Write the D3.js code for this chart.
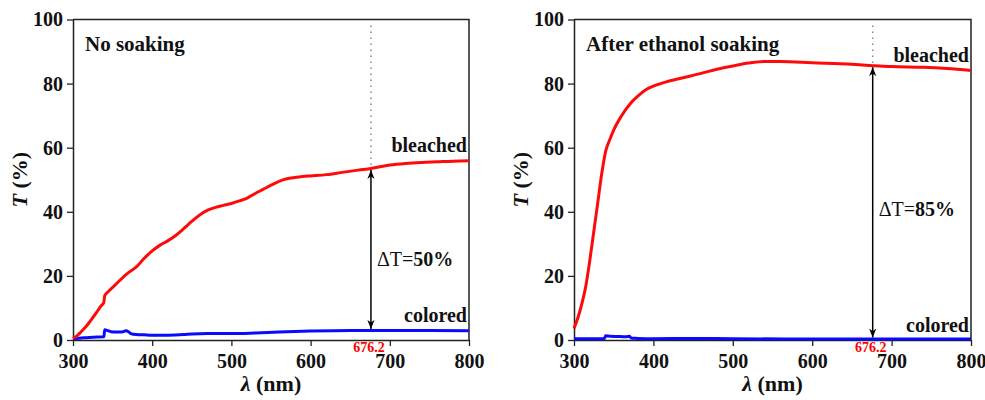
<!DOCTYPE html>
<html><head><meta charset="utf-8">
<script src="https://cdn.jsdelivr.net/npm/d3@7"></script>
<style>
html,body{margin:0;padding:0;background:#fff;}
</style></head>
<body>
<svg id="chart" width="985" height="400"></svg>
<script>
// ---------- data ----------
const xTicks = [300, 400, 500, 600, 700, 800];
const yTicks = [0, 20, 40, 60, 80, 100];
const panelTitles = ["No soaking", "After ethanol soaking"];
const deltaValues = ["50%", "85%"];
const markWavelength = 676.2;

const noSoakBleachedX = [300,305,310,315,320,325,330,335,339,340,345,350,360,370,380,390,400,410,420,430,440,450,460,470,480,490,500,510,520,530,540,550,560,570,580,590,600,620,640,660,676.2,700,720,740,760,780,800];
const noSoakBleachedY = [0.5,1.3,2.5,3.8,5.3,7,8.7,10.5,11.8,13.8,15.2,16.4,18.8,21,22.8,25.5,27.8,29.6,31,32.7,34.8,37,39,40.5,41.4,42,42.6,43.4,44.3,45.7,47,48.3,49.5,50.3,50.7,51,51.2,51.6,52.3,53,53.5,54.6,55.1,55.4,55.6,55.8,55.9];

const noSoakColoredX = [300,310,320,330,338,339,340,343,348,355,362,367,370,373,380,390,400,420,440,450,470,500,530,560,600,650,676.2,700,750,800];
const noSoakColoredY = [0.4,0.6,0.8,0.9,1.0,1.0,3.2,3.0,2.6,2.5,2.5,2.9,2.6,2.0,1.7,1.6,1.5,1.5,1.7,1.9,2.0,2.0,2.2,2.5,2.8,3.0,3.0,3.0,3.0,2.9];

const ethanolBleachedX = [300,305,310,315,320,325,330,335,340,345,350,360,370,380,390,400,420,440,460,480,500,520,540,560,600,650,676.2,700,740,770,800];
const ethanolBleachedY = [3.6,7,11.4,17,25,34,43,52,59,62.5,65.5,70,73.5,76,78,79.2,80.8,82,83.2,84.5,85.5,86.4,86.9,86.9,86.5,86,85.6,85.3,85.1,84.7,84.1];

const ethanolColoredX = [300,320,338,340,345,355,365,370,372,380,400,450,500,600,700,800];
const ethanolColoredY = [0.4,0.4,0.4,1.3,1.2,1.1,1.0,1.2,0.6,0.5,0.4,0.5,0.4,0.3,0.3,0.3];

// ---------- drawing ----------
const FONT = "Liberation Serif";
const svg = d3.select("#chart").attr("font-family", FONT);
const defs = svg.append("defs");
defs.append("marker").attr("id","arr").attr("viewBox","0 0 10 10")
  .attr("refX",10).attr("refY",5).attr("markerWidth",9).attr("markerHeight",9)
  .attr("markerUnits","userSpaceOnUse").attr("orient","auto-start-reverse")
  .append("path").attr("d","M0,1 L10,5 L0,9 L3,5 Z").attr("fill","#000");

const panels = [
  {left:73, right:469, title:panelTitles[0], bx:noSoakBleachedX, by:noSoakBleachedY, cx:noSoakColoredX, cy:noSoakColoredY,
   delta:deltaValues[0], bleachedLabelY:152, coloredLabelY:322, deltaY:266},
  {left:574, right:971, title:panelTitles[1], bx:ethanolBleachedX, by:ethanolBleachedY, cx:ethanolColoredX, cy:ethanolColoredY,
   delta:deltaValues[1], bleachedLabelY:62, coloredLabelY:332, deltaY:216}
];
const plotTop = 19.5, plotBottom = 340;

panels.forEach(p => {
  const x = d3.scaleLinear().domain([300,800]).range([p.left,p.right]);
  const y = d3.scaleLinear().domain([0,100]).range([plotBottom,plotTop]);
  const g = svg.append("g");

  g.append("path").attr("d",`M${p.left},${plotTop}H${p.right}V${plotBottom}`)
    .attr("fill","none").attr("stroke","#222").attr("stroke-width",1.5);

  const xa = g.append("g").attr("transform",`translate(0,${plotBottom})`);
  xa.call(d3.axisBottom(x).tickValues(d3.range(350,800,100)).tickSize(4).tickFormat(""));
  xa.call(d3.axisBottom(x).tickValues(xTicks).tickSize(6).tickSizeOuter(0).tickPadding(8).tickFormat(d3.format("d")));
  xa.selectAll("path.domain").attr("stroke","#222").attr("stroke-width",1.5);
  xa.selectAll("line").attr("stroke","#222").attr("stroke-width",1.3);
  xa.selectAll("text").attr("font-size",20).attr("font-weight","bold").attr("fill","#111");

  const ya = g.append("g").attr("transform",`translate(${p.left},0)`);
  ya.call(d3.axisLeft(y).tickValues(d3.range(10,100,20)).tickSize(4).tickFormat(""));
  ya.call(d3.axisLeft(y).tickValues(yTicks).tickSize(6).tickSizeOuter(0).tickPadding(4).tickFormat(d3.format("d")));
  ya.selectAll("path.domain").attr("stroke","#222").attr("stroke-width",1.5);
  ya.selectAll("line").attr("stroke","#222").attr("stroke-width",1.3);
  ya.selectAll("text").attr("font-size",20).attr("font-weight","bold").attr("fill","#111");

  const yt = g.append("text").attr("transform",`translate(${p.left-46},${(plotTop+plotBottom)/2}) rotate(-90)`)
    .attr("text-anchor","middle").attr("font-size",22).attr("font-weight","bold").attr("fill","#111");
  yt.append("tspan").attr("font-style","italic").text("T");
  yt.append("tspan").text(" (%)");
  const xt = g.append("text").attr("x",(p.left+p.right)/2).attr("y",391)
    .attr("text-anchor","middle").attr("font-size",22).attr("font-weight","bold").attr("fill","#111");
  xt.append("tspan").attr("font-style","italic").text("λ");
  xt.append("tspan").text(" (nm)");

  g.append("text").attr("x",p.left+12).attr("y",51).attr("font-size",21).attr("font-weight","bold")
    .attr("fill","#111").text(p.title);

  const line = d3.line().x(d=>x(d[0])).y(d=>y(d[1])).curve(d3.curveMonotoneX);
  g.append("path").datum(d3.zip(p.cx,p.cy)).attr("d",line).attr("fill","none")
    .attr("stroke","#0a0aff").attr("stroke-width",3);
  g.append("path").datum(d3.zip(p.bx,p.by)).attr("d",line).attr("fill","none")
    .attr("stroke","#ff0a0a").attr("stroke-width",3);

  const bAt = d3.scaleLinear().domain(p.bx).range(p.by)(markWavelength);
  const cAt = d3.scaleLinear().domain(p.cx).range(p.cy)(markWavelength);
  const mx = x(markWavelength);
  g.append("line").attr("x1",mx).attr("x2",mx).attr("y1",plotTop+6).attr("y2",y(bAt))
    .attr("stroke","#888").attr("stroke-width",1.5).attr("stroke-dasharray","1.5,4.5");
  g.append("line").attr("x1",mx).attr("x2",mx).attr("y1",y(bAt)+1.5).attr("y2",y(cAt)-1.5)
    .attr("stroke","#000").attr("stroke-width",1.5)
    .attr("marker-start","url(#arr)").attr("marker-end","url(#arr)");

  const dt = g.append("text").attr("x",mx+6).attr("y",p.deltaY).attr("font-size",20).attr("fill","#111");
  dt.append("tspan").text("ΔT=");
  dt.append("tspan").attr("font-weight","bold").text(p.delta);

  g.append("text").attr("x",mx-2).attr("y",352).attr("text-anchor","middle").attr("font-size",14)
    .attr("font-weight","bold").attr("fill","#ff0000").text(String(markWavelength));

  g.append("text").attr("x",p.right-2).attr("y",p.bleachedLabelY).attr("text-anchor","end")
    .attr("font-size",20).attr("font-weight","bold").attr("fill","#111").text("bleached");
  g.append("text").attr("x",p.right-2).attr("y",p.coloredLabelY).attr("text-anchor","end")
    .attr("font-size",20).attr("font-weight","bold").attr("fill","#111").text("colored");
});
svg.selectAll("g").attr("font-family", FONT);
svg.selectAll("text").attr("font-family", FONT);
</script>
</body></html>
